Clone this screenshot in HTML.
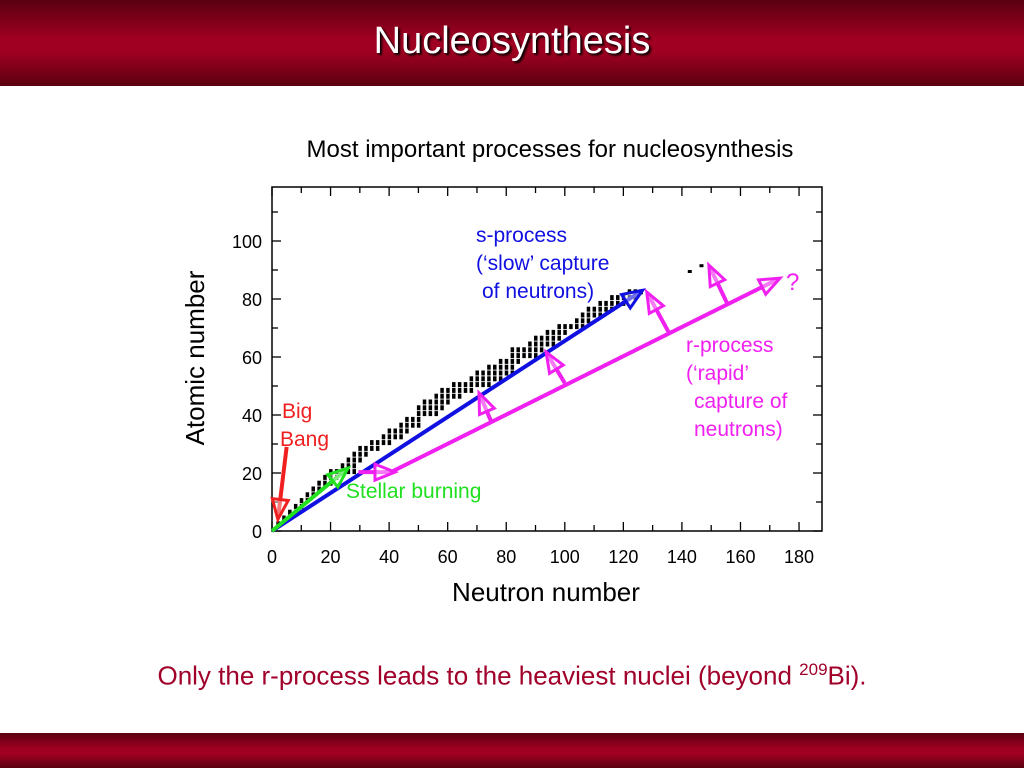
<!DOCTYPE html>
<html><head><meta charset="utf-8"><style>
body{margin:0;width:1024px;height:768px;overflow:hidden;background:#fff;font-family:"Liberation Sans",sans-serif;position:relative}
.band{position:absolute;left:0;width:1024px;background:linear-gradient(#5a0010,#a00022 45%,#a00022 60%,#5a0010)}
#hdr{top:0;height:86px}
#ftr{top:733px;height:35px}
#ttl{position:absolute;top:20px;width:1024px;text-align:center;color:#fff;font-size:38px;text-shadow:2px 2px 2px #000}
#cap{position:absolute;top:660px;width:1024px;text-align:center;color:#a0002a;font-size:26px}
</style></head><body>
<div class="band" id="hdr"></div>
<div id="ttl">Nucleosynthesis</div>
<svg id="chart" width="1024" height="768" style="position:absolute;left:0;top:0"></svg>
<div id="cap">Only the r-process leads to the heaviest nuclei (beyond <sup style="font-size:17px">209</sup>Bi).</div>
<div class="band" id="ftr"></div>
<script>
const xTicks=[0,20,40,60,80,100,120,140,160,180];
const yTicks=[0,20,40,60,80,100];
const stableZ=[2,4,6,8,10,12,14,16,18,20,22,24,26,28,30,32,34,36,38,40,42,44,46,48,50,52,54,56,58,60,62,64,66,68,70,72,74,76,78,80,82];
const stableNmin=[2,4,6,8,10,12,14,16,18,20,24,26,28,30,34,38,40,44,46,50,50,52,56,58,62,68,70,74,78,82,82,88,90,94,98,104,106,108,112,116,122];
const stableNmax=[2,6,8,10,12,14,16,20,22,28,28,30,32,36,40,44,46,50,50,56,58,60,64,68,74,78,82,82,84,90,92,96,98,100,106,108,112,116,120,124,126];
const actinideZ=[90,92];
const actinideN=[142,146];
// arrows: [n1,z1,n2,z2]
const bigBang=[5,29,2,4];
const stellar=[0,0,26,21.7];
const sProc=[0,0,126.6,83];
const rStart=[29.5,20.3,42,20.3];
const rMain=[40.6,20.3,173.5,87.2];
const rBranches=[[75.1,37.2,70.7,47.6],[100,51,93.6,61.7],[135.6,68.3,128,82.4],[155.4,78.6,149.2,91.7]];

const X=n=>272+n*2.928, Y=z=>531-z*2.9;
const svg=document.getElementById('chart');
const NS='http://www.w3.org/2000/svg';
function mk(t,a){const e=document.createElementNS(NS,t);for(const k in a)e.setAttribute(k,a[k]);svg.appendChild(e);return e;}
function txt(s,x,y,size,fill,anchor){const e=mk('text',{x:x,y:y,'font-size':size,fill:fill,'text-anchor':anchor||'start','font-family':'Liberation Sans, sans-serif'});e.textContent=s;return e;}

const frame=mk('rect',{x:272,y:187,width:550,height:344,fill:'none',stroke:'#000','stroke-width':1.5});


for(let n=0;n<=185;n+=10){const L=n%20===0?9:6;
 const t1=mk('line',{x1:X(n),y1:531,x2:X(n),y2:531-L,stroke:'#000','stroke-width':1.3});
 
 
 mk('line',{x1:X(n),y1:187,x2:X(n),y2:187+L,stroke:'#000','stroke-width':1.3});}
for(let z=0;z<=115;z+=10){const L=z%20===0?9:6;
 const t2=mk('line',{x1:272,y1:Y(z),x2:272+L,y2:Y(z),stroke:'#000','stroke-width':1.3});
 
 
 mk('line',{x1:822,y1:Y(z),x2:822-L,y2:Y(z),stroke:'#000','stroke-width':1.3});}
xTicks.forEach(v=>{const t=txt(String(v),X(v),563,18,'#000','middle');
 
 });
yTicks.forEach(v=>{const t=txt(String(v),262,Y(v)+7,18,'#000','end');
 
 });

const ct=txt('Most important processes for nucleosynthesis',550,157,24,'#000','middle');


const xt=txt('Neutron number',546,601,26,'#000','middle');


const yt=txt('Atomic number',0,0,26,'#000','middle');
yt.setAttribute('transform','translate(204,358) rotate(-90)');



stableZ.forEach((z,i)=>{
 for(let n=stableNmin[i];n<=stableNmax[i];n+=2){
  const r=mk('rect',{x:X(n)-1.5,y:Y(z+1)-1,width:3.5,height:5,fill:'#000'});
  
  
 }});
actinideZ.forEach((z,i)=>{const r=mk('rect',{x:X(actinideN[i]),y:Y(z),width:4,height:3,fill:'#000'});
 
 });

function arrow(a,color,w,name,open){
 const x1=X(a[0]),y1=Y(a[1]),x2=X(a[2]),y2=Y(a[3]);
 const g=document.createElementNS(NS,'g');svg.appendChild(g);
 
 
 const dx=x2-x1,dy=y2-y1,l=Math.hypot(dx,dy),ux=dx/l,uy=dy/l,h=20,hw=8;
 const bx=x2-ux*h,by=y2-uy*h;
 const ln=document.createElementNS(NS,'line');
 ln.setAttribute('x1',x1);ln.setAttribute('y1',y1);ln.setAttribute('x2',x2-ux*3);ln.setAttribute('y2',y2-uy*3);
 ln.setAttribute('stroke',color);ln.setAttribute('stroke-width',w);g.appendChild(ln);
 const p=document.createElementNS(NS,'polygon');
 p.setAttribute('points',`${x2},${y2} ${bx-uy*hw},${by+ux*hw} ${bx+uy*hw},${by-ux*hw}`);
 p.setAttribute('fill',open?'rgba(255,255,255,0.4)':color);p.setAttribute('stroke',color);p.setAttribute('stroke-width',3);
 g.appendChild(p);
}
arrow(sProc,'#1010e0',4,'s-process-arrow',true);
arrow(stellar,'#20e020',4,'stellar-burning-arrow',true);
arrow(bigBang,'#f02020',4,'big-bang-arrow',true);
arrow(rMain,'#f020f0',4,'r-process-arrow',true);
arrow(rStart,'#f020f0',4,'r-process-start-arrow',true);
rBranches.forEach(b=>arrow(b,'#f020f0',4,'r-process-decay-arrow',true));

[['s-process',476,242],['(\u2018slow\u2019 capture',476,270],[' of neutrons)',482,298]].forEach(s=>{const t=txt(s[0],s[1],s[2],21,'#1010e0');
 
 });
[['r-process',686,352],['(\u2018rapid\u2019',686,380],['capture of',694,408],['neutrons)',694,436]].forEach(s=>{const t=txt(s[0],s[1],s[2],21,'#f020f0');
 
 });
const q=txt('?',786,290,24,'#f020f0');


[['Big',282,418],['Bang',280,446]].forEach(s=>{const t=txt(s[0],s[1],s[2],21,'#f02020');
 
 });
const sb=txt('Stellar burning',346,498,21,'#20e020');


</script>
</body></html>
